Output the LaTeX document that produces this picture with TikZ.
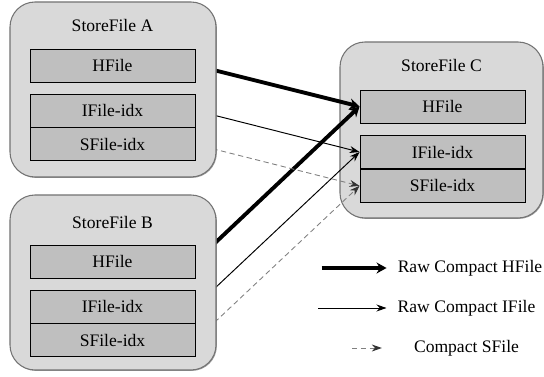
\documentclass[tikz,border=0pt]{standalone}
\usepackage{fontspec}
\setmainfont{Liberation Serif}
\usetikzlibrary{arrows.meta,positioning,shadows}
\pgfdeclarelayer{front}
\pgfsetlayers{main,front}

\begin{document}
\begin{tikzpicture}[
    font=\fontsize{10}{12}\selectfont,
    store box/.style={
        rectangle,
        rounded corners=0.5cm,
        draw=gray!90!black,
        line width=0.6pt,
        fill=gray!30,
        minimum width=4.12cm,
        minimum height=3.5cm,
        drop shadow={shadow xshift=0.5pt,shadow yshift=-0.5pt,fill=gray!70!black,opacity=0.6}
    },
    file box/.style={
        rectangle,
        draw=black,
        line width=0.5pt,
        fill=gray!50,
        minimum width=3.3cm,
        minimum height=0.66cm,
        inner sep=0pt
    },
    hfile link/.style={-{Stealth[length=2mm,width=2.2mm]}, line width=2.2pt},
    ifile link/.style={-{Stealth[length=2mm,width=1.4mm]}, line width=0.55pt},
    sfile link/.style={-{Stealth[length=2mm,width=1.4mm,color=black!80]}, line width=0.5pt,
        draw=gray, dash pattern=on 3pt off 2pt}
]
\useasboundingbox (0,0) rectangle (10.88,-7.54);

% Target store
\node[store box, minimum width=4.06cm, minimum height=3.52cm] (C) at (8.83,-2.60) {};
\node (tC) at (8.83,-1.30) {StoreFile C};
\node[file box] (hC) at (8.85,-2.13) {HFile};
\node[file box] (iC) at (8.85,-3.04) {IFile-idx};
\node[file box, below=0pt of iC] (sC) {SFile-idx};

% Source stores (drawn over the link starts)
\begin{pgfonlayer}{front}
\node[store box] (A) at (2.26,-1.79) {};
\node (tA) at (2.25,-0.50) {StoreFile A};
\node[file box] (hA) at (2.25,-1.31) {HFile};
\node[file box] (iA) at (2.25,-2.21) {IFile-idx};
\node[file box, below=0pt of iA] (sA) {SFile-idx};

\node[store box] (B) at (2.26,-5.65) {};
\node (tB) at (2.25,-4.44) {StoreFile B};
\node[file box] (hB) at (2.25,-5.23) {HFile};
\node[file box] (iB) at (2.25,-6.13) {IFile-idx};
\node[file box, below=0pt of iB] (sB) {SFile-idx};
\end{pgfonlayer}

% Compaction links
\draw[hfile link] (hA.east) -- (hC.west);
\draw[hfile link] (hB.east) -- (hC.west);
\draw[ifile link] (iA.east) -- (iC.west);
\draw[ifile link] (iB.east) -- (iC.west);
\draw[sfile link] (sA.east) -- (sC.west);
\draw[sfile link] (sB.east) -- (sC.west);

% Legend
\coordinate (kH) at (6.43,-5.36);
\coordinate (kI) at (6.36,-6.16);
\coordinate (kS) at (7.04,-6.96);
\node (lH) at (9.40,-5.36) {Raw Compact HFile};
\node (lI) at (9.33,-6.16) {Raw Compact IFile};
\node (lS) at (9.33,-6.96) {Compact SFile};
\draw[hfile link, shorten >=0.1cm] (kH) -- (lH.west);
\draw[ifile link, shorten >=0.1cm] (kI) -- (lI.west);
\draw[sfile link, shorten >=0.52cm] (kS) -- (lS.west);

\end{tikzpicture}
\end{document}
